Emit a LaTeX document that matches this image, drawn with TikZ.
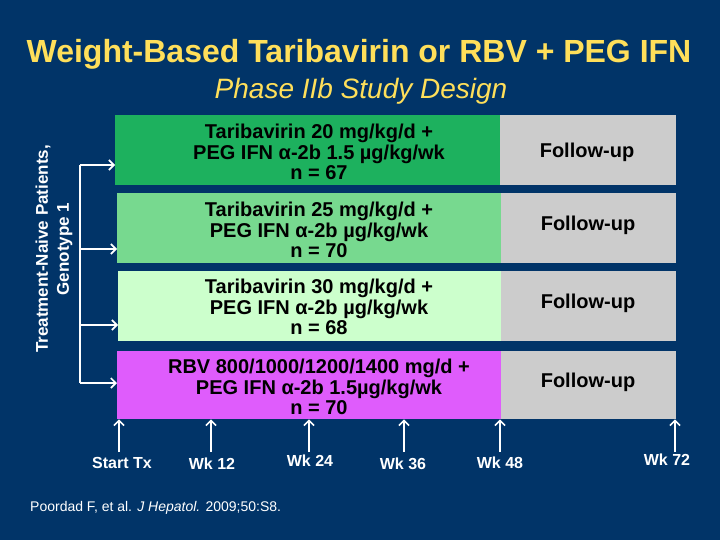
\documentclass[tikz,border=0pt]{standalone}
\usepackage{fontspec}
\setmainfont{Liberation Sans}
\usetikzlibrary{arrows.meta}
\definecolor{bgnavy}{HTML}{013468}
\definecolor{titleyellow}{HTML}{FFDF5A}
\definecolor{rowA}{HTML}{1DB15E}
\definecolor{rowB}{HTML}{77D98F}
\definecolor{rowC}{HTML}{CCFFCC}
\definecolor{rowD}{HTML}{DF5CFC}
\definecolor{fugray}{HTML}{CCCCCC}
\tikzset{
  rowbox/.style={draw=none, inner sep=0pt, anchor=north west},
  rowtext/.style={align=center, text=black, font=\fontsize{20}{20.3}\selectfont\bfseries, inner sep=0pt},
  futext/.style={text=black, font=\fontsize{20}{20}\selectfont\bfseries, inner sep=0pt},
  wklabel/.style={text=white, font=\fontsize{16}{17}\selectfont\bfseries, inner sep=0pt},
  arr/.style={white, line width=2pt, -{Straight Barb[length=5pt,width=10pt,line width=1.6pt]}},
  bracketline/.style={white, line width=2pt},
}
\begin{document}
\begin{tikzpicture}[x=1pt,y=-1pt]
\fill[bgnavy] (0,0) rectangle (720,540);
\useasboundingbox (0,0) rectangle (720,540);

% titles
\node[text=titleyellow, font=\fontsize{32}{34}\selectfont\bfseries, inner sep=0pt] (title) at (359,54) {Weight-Based Taribavirin or RBV + PEG IFN};
\node[text=titleyellow, font=\fontsize{28}{30}\selectfont\itshape, inner sep=0pt] (subtitle) at (361,91) {Phase IIb Study Design};

% treatment boxes
\node[rowbox, fill=rowA, minimum width=386pt, minimum height=70pt] (r1) at (115,115) {};
\node[rowbox, fill=fugray, minimum width=176pt, minimum height=70pt] (f1) at (500,115) {};
\node[rowbox, fill=rowB, minimum width=384pt, minimum height=70pt] (r2) at (117,193) {};
\node[rowbox, fill=fugray, minimum width=175pt, minimum height=70pt] (f2) at (501,193) {};
\node[rowbox, fill=rowC, minimum width=383pt, minimum height=70pt] (r3) at (118,271) {};
\node[rowbox, fill=fugray, minimum width=175pt, minimum height=70pt] (f3) at (501,271) {};
\node[rowbox, fill=rowD, minimum width=384pt, minimum height=68pt] (r4) at (117,351) {};
\node[rowbox, fill=fugray, minimum width=175pt, minimum height=68pt] (f4) at (501,351) {};

% box texts
\node[rowtext] (t1) at (319,152) {Taribavirin 20 mg/kg/d +\\PEG IFN α-2b 1.5 µg/kg/wk\\n = 67};
\node[rowtext] (t2) at (319,230) {Taribavirin 25 mg/kg/d +\\PEG IFN α-2b µg/kg/wk\\n = 70};
\node[rowtext] (t3) at (319,307) {Taribavirin 30 mg/kg/d +\\PEG IFN α-2b µg/kg/wk\\n = 68};
\node[rowtext] (t4) at (319,387) {RBV 800/1000/1200/1400 mg/d +\\PEG IFN α-2b 1.5µg/kg/wk\\n = 70};

\node[futext] (u1) at (587,152) {Follow-up};
\node[futext] (u2) at (588,225) {Follow-up};
\node[futext] (u3) at (588,303) {Follow-up};
\node[futext] (u4) at (588,382) {Follow-up};

% rotated side label
\node[rotate=90, align=center, text=white, font=\fontsize{17}{21}\selectfont\bfseries, inner sep=0pt] (side) at (54,249) {Treatment-Naive Patients,\\Genotype 1};

% randomisation bracket
\coordinate (b1) at (80,165);
\coordinate (b2) at (80,249);
\coordinate (b3) at (80,325);
\coordinate (b4) at (80,383);
\draw[bracketline] (b1) -- (b4);
\draw[arr] (b1) -- (b1 -| r1.west);
\draw[arr] (b2) -- (b2 -| r2.west);
\draw[arr] (b3) -- (b3 -| r3.west);
\draw[arr] (b4) -- (b4 -| r4.west);

% timeline arrows
\coordinate (s0) at (119,452);
\coordinate (s1) at (211,452);
\coordinate (s2) at (309,452);
\coordinate (s3) at (404,452);
\coordinate (s4) at (500,452);
\coordinate (s5) at (675,452);
\foreach \c in {s0,s1,s2,s3,s4}{\draw[arr] (\c) -- (\c |- r4.south);}
\draw[arr] (s5) -- (s5 |- f4.south);

\node[wklabel] (l0) at (122,463) {Start Tx};
\node[wklabel] (l1) at (212,464) {Wk 12};
\node[wklabel] (l2) at (310,461) {Wk 24};
\node[wklabel] (l3) at (403,464) {Wk 36};
\node[wklabel] (l4) at (500,463) {Wk 48};
\node[wklabel] (l5) at (667,460) {Wk 72};

% citation
\node[text=white, font=\fontsize{14}{15}\selectfont, anchor=west, inner sep=0pt] (cite) at (30,508) {Poordad F, et al. \textit{J Hepatol.} 2009;50:S8.};
\end{tikzpicture}
\end{document}
